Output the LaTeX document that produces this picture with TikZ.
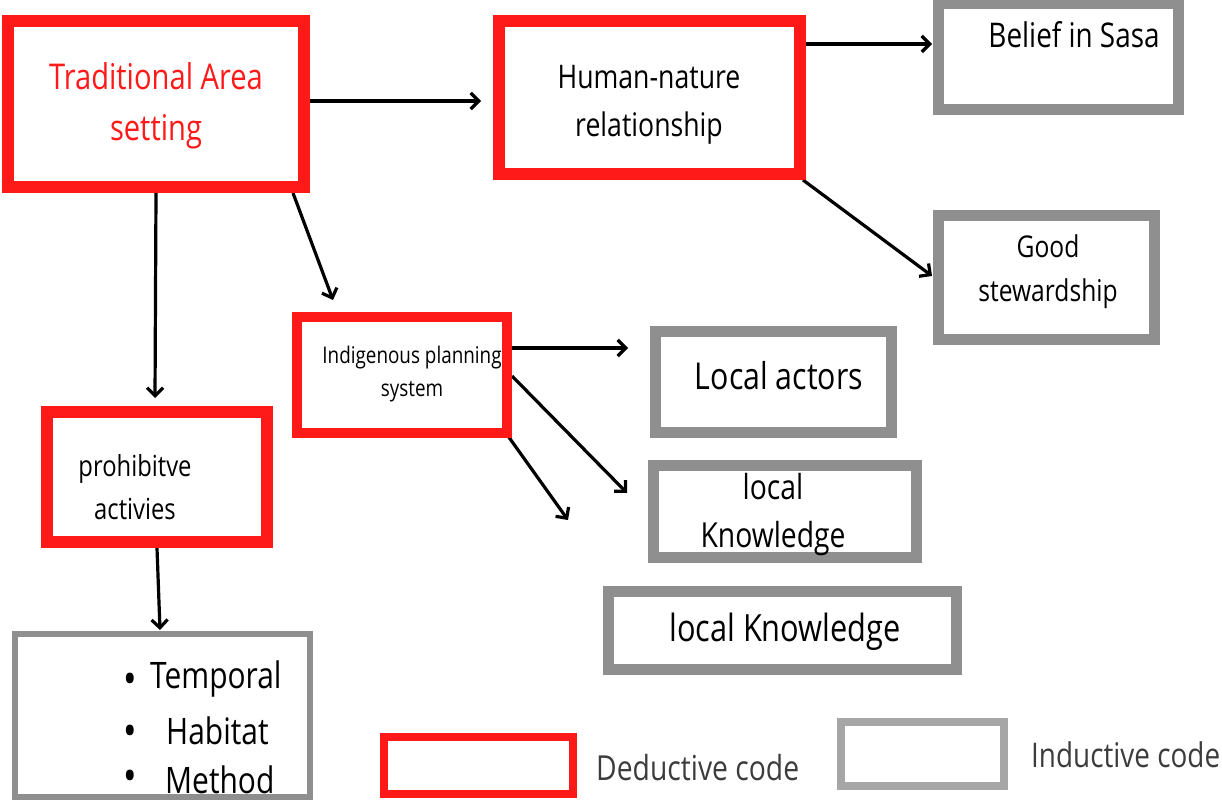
\documentclass[tikz,border=0pt]{standalone}
\usepackage{fontspec}
\setmainfont{Open Sans}[FakeStretch=0.82]
\usetikzlibrary{arrows.meta,backgrounds,calc}
\definecolor{dedred}{HTML}{FF1A1A}
\definecolor{indgray}{HTML}{8F8F8F}
\definecolor{leggray}{HTML}{A6A6A6}
\definecolor{legtext}{HTML}{3C3C3C}
\tikzset{
  deductive/.style={draw=dedred, line width=12pt, inner sep=0pt, fill=white},
  inductive/.style={draw=indgray, line width=11pt, inner sep=0pt, fill=white},
  label/.style={inner sep=0pt, align=center, text=black},
  conn/.style={line width=3.2pt, -{Straight Barb[length=8pt,width=16pt,line width=3.2pt]}},
  fs/.style 2 args={font=\fontsize{#1}{#2}\selectfont},
}
\begin{document}
\begin{tikzpicture}[x=1pt,y=-1pt]
\useasboundingbox (0,0) rectangle (1222,802);

% deductive boxes
\node[deductive, minimum width=296pt, minimum height=166pt] (trad) at (156,104) {};
\node[deductive, minimum width=301pt, minimum height=153pt] (human) at (649.5,97.5) {};
\node[deductive, line width=10pt, minimum width=210pt, minimum height=116pt] (indig) at (402,375) {};
\node[deductive, minimum width=220pt, minimum height=130pt] (prohib) at (157,477) {};

% inductive boxes
\node[inductive, minimum width=240pt, minimum height=106pt] (belief) at (1058.5,56.5) {};
\node[inductive, minimum width=216pt, minimum height=124pt] (good) at (1046.5,277.5) {};
\node[inductive, minimum width=236pt, minimum height=101pt] (actors) at (773.5,382) {};
\node[inductive, minimum width=263pt, minimum height=92pt] (know1) at (785,511.5) {};
\node[inductive, minimum width=348pt, minimum height=78pt] (know2) at (782.5,630.5) {};
\node[inductive, line width=6pt, minimum width=295pt, minimum height=163pt] (list) at (162.5,715.5) {};

% box texts
\node[label, text=dedred, fs={35.5}{51}] (tradT) at (156,106) {Traditional Area\\setting};
\node[label, fs={32.5}{48}] (humanT) at (649,105) {Human-nature\\relationship};
\node[label, fs={34}{50}] (beliefT) at (1074,35) {Belief in Sasa};
\node[label, fs={30}{44}] (goodT) at (1048,272) {Good\\stewardship};
\node[label, fs={23}{33}] (indigT) at (412,374) {Indigenous planning\\system};
\node[label, fs={37}{50}] (actorsT) at (779,376) {Local actors};
\node[label, fs={34.5}{48}] (know1T) at (773,515) {local\\Knowledge};
\node[label, fs={37.5}{50}] (know2T) at (785,632) {local Knowledge};
\node[label, fs={29}{43}] (prohibT) at (135,487) {prohibitve\\activies};

% bullet list
\node[label, fs={44}{44}] (b1) at (130,684) {•};
\node[label, fs={44}{44}] (b2) at (130,736) {•};
\node[label, fs={44}{44}] (b3) at (130,781) {•};
\node[label, anchor=west, fs={36.5}{50}] (t1) at (150,679) {Temporal};
\node[label, anchor=west, fs={36.5}{50}] (t2) at (166,731) {Habitat};
\node[label, anchor=west, fs={36.5}{50}] (t3) at (165,780) {Method};

% legend
\node[draw=dedred, line width=8pt, fill=white, minimum width=189pt, minimum height=57pt, inner sep=0pt] (legded) at (478.5,765.5) {};
\node[label, anchor=west, text=legtext, fs={34.5}{40}] (legdedT) at (596,768) {Deductive code};
\node[draw=leggray, line width=8pt, fill=white, minimum width=163pt, minimum height=64pt, inner sep=0pt] (legind) at (922.5,754) {};
\node[label, anchor=west, text=legtext, fs={34}{40}] (legindT) at (1031,755) {Inductive code};

% arrow end points
\coordinate (e1) at (481,101);
\coordinate (e2) at (155,398);
\coordinate (e3) at (333,300);
\coordinate (e4) at (932,44);
\coordinate (e5) at (932,276);
\coordinate (e6) at (628,348);
\coordinate (e7) at (627,493);
\coordinate (e8) at (568,520);
\coordinate (e9) at (160,630);

% connectors
\begin{scope}[on background layer]
\draw[conn] ($(trad.east)+(0,-3)$) -- (e1);
\draw[conn] (trad.south) -- (e2);
\draw[conn] ($(trad.south east)+(-17,0)$) -- (e3);
\draw[conn] ($(human.north east)+(0,29)$) -- (e4);
\draw[conn] ($(human.south east)+(-3,0)$) -- (e5);
\draw[conn] ($(indig.north east)+(0,36)$) -- (e6);
\draw[conn] ($(indig.north east)+(0,64)$) -- (e7);
\draw[conn] ($(indig.south east)+(-4,-2)$) -- (e8);
\draw[conn] (prohib.south) -- (e9);
\end{scope}
\end{tikzpicture}
\end{document}
